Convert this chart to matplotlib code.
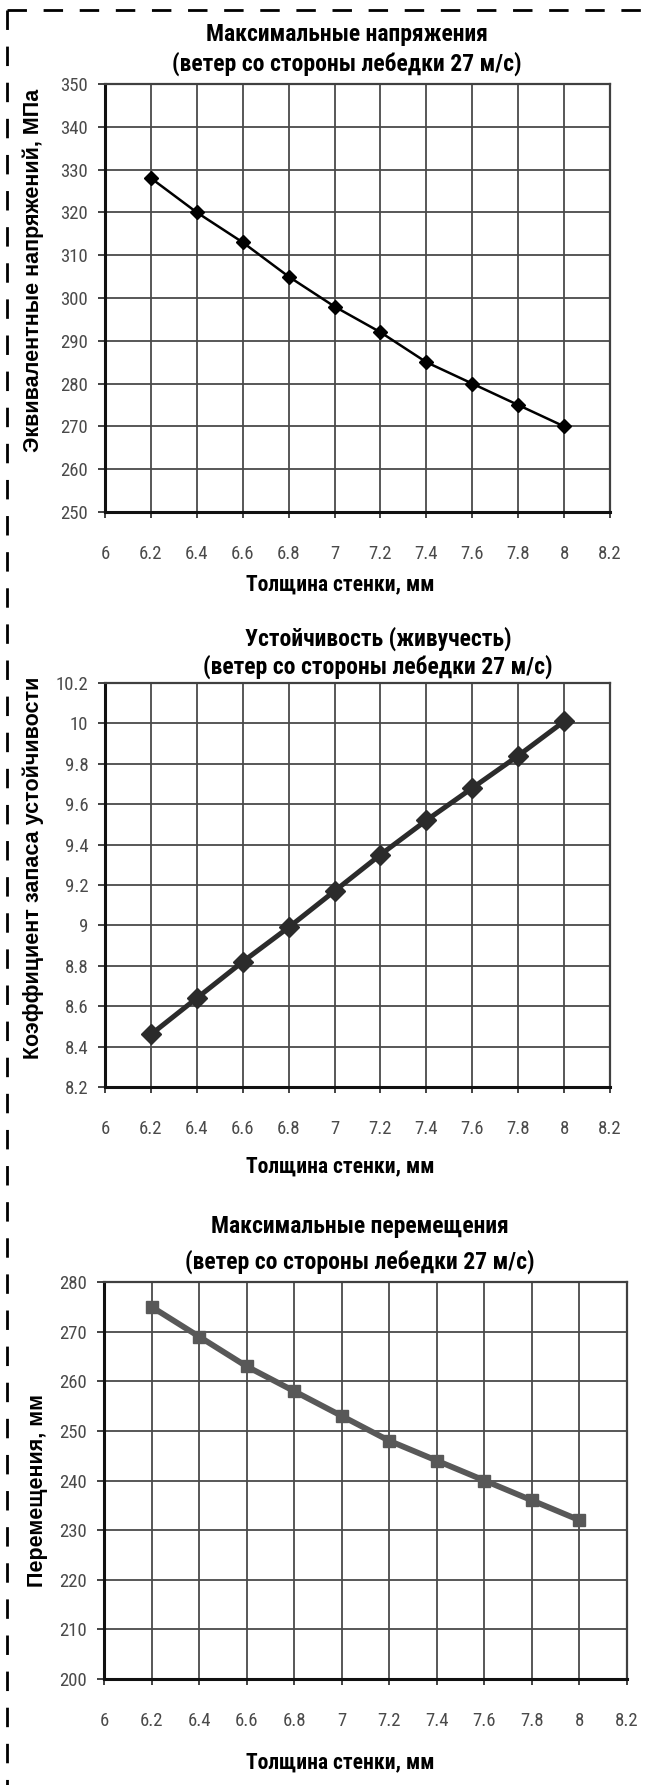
import matplotlib
matplotlib.use('Agg')
import matplotlib.pyplot as plt
from matplotlib import font_manager
from matplotlib.lines import Line2D

# data
thickness = [6.2, 6.4, 6.6, 6.8, 7.0, 7.2, 7.4, 7.6, 7.8, 8.0]
stress = [328, 320, 313, 305, 298, 292, 285, 280, 275, 270]
stability = [8.46, 8.64, 8.82, 8.99, 9.17, 9.35, 9.52, 9.68, 9.84, 10.01]
displacement = [275, 269, 263, 258, 253, 248, 244, 240, 236, 232]

x_ticks = [6, 6.2, 6.4, 6.6, 6.8, 7, 7.2, 7.4, 7.6, 7.8, 8, 8.2]
stress_ticks = list(range(250, 351, 10))
stability_ticks = [8.2, 8.4, 8.6, 8.8, 9, 9.2, 9.4, 9.6, 9.8, 10, 10.2]
displacement_ticks = list(range(200, 281, 10))

subtitle = '(ветер со стороны лебедки 27 м/с)'
x_title = 'Толщина стенки, мм'

# look for a narrow face (Arial Narrow look); fall back to a smaller regular one
names = {f.name for f in font_manager.fontManager.ttflist}
narrow = None
for cand in ['Liberation Sans Narrow', 'Roboto Condensed', 'Open Sans Condensed',
             'Noto Sans Condensed', 'Arial Narrow']:
    if cand in names:
        narrow = cand
        break
if narrow is None:
    for n in sorted(names):
        if 'Narrow' in n or 'Condensed' in n:
            narrow = n
            break
if narrow:
    NAR = [narrow, 'DejaVu Sans']
    title_fs, xlab_fs, tick_fs = 17, 15.5, 13.5
else:
    NAR = ['Liberation Sans', 'DejaVu Sans']
    title_fs, xlab_fs, tick_fs = 14.5, 13.5, 12.5
WIDE = ['Liberation Sans', 'DejaVu Sans']

W, H = 655, 1785
fig = plt.figure(figsize=(W / 100, H / 100), dpi=100)


def fx(px):
    return px / W


def fy(py):
    return 1 - py / H


def fmt(v):
    return ('%.1f' % v).rstrip('0').rstrip('.')


def panel(box, y, yticks, color, lw, marker, ms, title1, title_x, t1_y, t2_y,
          ylabel, ylab_x, ylab_y, xlab_y):
    left, top, right, bottom = box
    ax = fig.add_axes([fx(left), fy(bottom), fx(right - left), (bottom - top) / H])
    ax.plot(thickness, y, color=color, lw=lw, marker=marker, ms=ms,
            markerfacecolor=color, markeredgecolor=color, zorder=3)
    ax.set_xlim(6, 8.2)
    ax.set_ylim(yticks[0], yticks[-1])
    ax.set_xticks(x_ticks)
    ax.set_yticks(yticks)
    ax.set_xticklabels([fmt(v) for v in x_ticks], family=NAR, fontsize=tick_fs,
                       color='#4a4a4a')
    ax.set_yticklabels([fmt(v) for v in yticks], family=NAR, fontsize=tick_fs,
                       color='#4a4a4a')
    ax.tick_params(axis='x', length=4, width=1.2, pad=20, color='#222222')
    ax.tick_params(axis='y', length=5, width=1.2, pad=7, color='#222222')
    ax.grid(True, color='#4a4a4a', lw=1.3)
    ax.set_axisbelow(True)
    for s in ('left', 'bottom'):
        ax.spines[s].set_color('#111111')
        ax.spines[s].set_linewidth(2.2)
    for s in ('top', 'right'):
        ax.spines[s].set_color('#404040')
        ax.spines[s].set_linewidth(1.6)
    fig.text(fx(title_x), fy(t1_y), title1, ha='center', va='center',
             family=NAR, fontsize=title_fs, fontweight='bold')
    fig.text(fx(title_x), fy(t2_y), subtitle, ha='center', va='center',
             family=NAR, fontsize=title_fs, fontweight='bold')
    fig.text(fx(ylab_x), fy(ylab_y), ylabel, rotation=90, ha='center',
             va='center', family=WIDE, fontsize=15.5, fontweight='bold')
    fig.text(fx(340), fy(xlab_y), x_title, ha='center', va='center',
             family=NAR, fontsize=xlab_fs, fontweight='bold')
    return ax


panel((105, 84, 610, 512), stress, stress_ticks, 'black', 1.8, 'D', 7,
      'Максимальные напряжения', 347, 35, 64,
      'Эквивалентные напряжений, МПа', 33, 270, 584)
panel((105, 683, 610, 1087), stability, stability_ticks, '#2b2b2b', 3.6, 'D', 10,
      'Устойчивость (живучесть)', 378, 639, 667,
      'Коэффициент запаса устойчивости', 33, 868, 1166)
panel((104, 1282, 627, 1679), displacement, displacement_ticks, '#585858', 4.2, 's', 8.5,
      'Максимальные перемещения', 360, 1227, 1262,
      'Перемещения, мм', 38, 1490, 1762)

# dashed frame on the top and left edge
fig.add_artist(Line2D([fx(7), 1], [fy(10), fy(10)], color='black', lw=2,
                      ls=(0, (7, 6))))
fig.add_artist(Line2D([fx(7), fx(7)], [fy(10), 0], color='black', lw=2,
                      ls=(0, (7, 6))))

fig.savefig('out.png', dpi=100, facecolor='white')
